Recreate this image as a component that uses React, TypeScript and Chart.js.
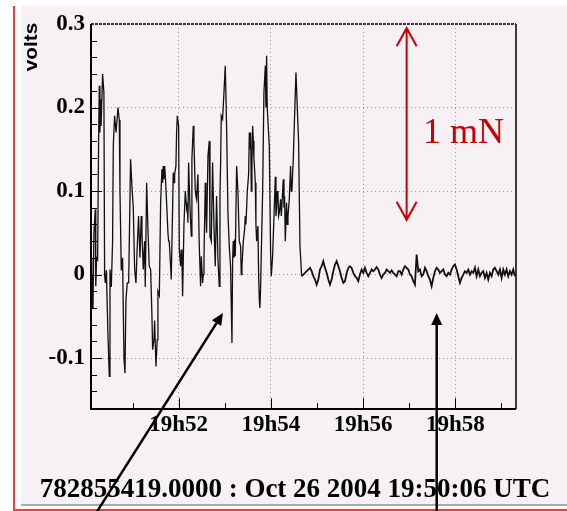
import React, { useEffect, useRef } from 'react';
import { Chart, registerables } from 'chart.js';

Chart.register(...registerables);

// Time axis: seconds after 19:50:00 UTC (26 Oct 2004)
const xMin = 6;
const xMax = 559;
const yMin = -0.161;
const yMax = 0.3;

// Oscillating part of the record (turning points)
const activeSeconds = [
  6.4, 7.0, 8.1, 8.6, 9.8, 11.6, 12.2, 13.3, 14.6, 15.9,
  16.8, 17.6, 18.5, 19.1, 21.1, 22.8, 23.7, 24.6, 26.0, 28.0,
  29.8, 30.7, 32.4, 34.1, 35.0, 36.7, 38.6, 41.1, 42.8, 43.7,
  45.4, 47.1, 48.9, 50.2, 51.5, 53.2, 55.0, 56.7, 57.5, 59.3,
  61.0, 62.8, 64.5, 66.2, 67.9, 69.7, 71.4, 72.3, 74.0, 75.8,
  76.6, 78.4, 80.1, 81.8, 83.6, 85.3, 86.2, 87.9, 88.8, 90.5,
  92.2, 93.1, 94.9, 96.6, 98.3,
  99.2, 100.0, 100.9, 101.8, 102.6, 104.4, 106.1, 107.0, 107.8, 109.6,
  110.4, 112.2, 113.0, 114.0, 114.8, 116.5, 117.4, 118.3, 120.0, 120.9,
  122.6, 123.5, 124.4, 125.2, 126.9, 128.7, 130.4, 131.3, 132.1, 133.0,
  134.7, 136.5, 137.3, 139.1, 139.9, 141.7, 142.5, 143.4, 145.1, 146.9,
  148.6, 149.5, 151.2, 152.1, 153.0, 154.7, 155.5, 156.4, 158.2, 159.9,
  160.8, 162.5, 164.2, 166.0, 167.7, 169.4, 171.2, 172.9, 173.8, 174.6,
  175.5, 177.2, 179.0, 180.7, 182.4, 184.2, 185.9, 187.6, 189.4, 190.3,
  191.1, 192.0, 192.9, 193.7, 195.5, 197.2, 198.9, 200.7, 201.5, 202.4,
  204.2, 205.9, 206.7, 207.6, 209.4, 211.1, 212.0, 212.8, 213.7, 214.6,
  215.4, 216.3, 217.2, 218.0, 219.8, 220.6, 221.5, 223.2, 224.1, 225.0,
  225.8, 226.7, 227.6, 229.3, 231.0, 232.8, 233.6, 234.5, 235.3, 236.2,
  238.0, 239.7, 240.6, 242.3, 244.1, 245.8, 246.7, 247.5, 248.4, 249.3,
  250.1, 251.0, 252.7, 253.6, 254.5, 256.2, 257.1, 257.9, 258.8, 260.5,
  261.4, 262.3, 264.0, 265.7, 266.6, 267.5, 269.2, 270.9, 272.7, 274.4,
  276.1, 277.9,
];
const activeVolts = [
  0.02, -0.04, 0.0, -0.04, 0.05, 0.078, -0.014, 0.02, 0.018, 0.16,
  0.226, 0.17, 0.21, 0.178, 0.24, 0.218, 0.0, -0.01, 0.005, -0.07,
  -0.122, 0.006, -0.015, 0.04, 0.154, 0.19, 0.17, 0.2, 0.185, 0.1,
  0.005, 0.02, -0.1, -0.118, -0.03, -0.01, -0.01, 0.09, 0.138, 0.105,
  0.08, 0.006, -0.01, 0.034, 0.07, 0.02, 0.07, 0.05, 0.006, 0.04,
  -0.015, 0.11, 0.054, 0.01, 0.006, -0.05, -0.09, -0.078, -0.055, -0.11,
  -0.078, -0.02, -0.025, 0.086, 0.126,
  0.11, 0.13, 0.114, 0.13, 0.12, 0.086, 0.05, 0.04, 0.04, 0.01,
  -0.006, 0.08, 0.122, 0.11, 0.12, 0.13, 0.17, 0.19, 0.178, 0.03,
  0.01, 0.03, 0.015, -0.026, 0.058, 0.1, 0.08, 0.086, 0.062, 0.134,
  0.082, 0.046, 0.138, 0.178, 0.16, 0.1, 0.094, 0.09, 0.12, 0.034,
  -0.014, 0.022, -0.01, 0.0, 0.018, 0.11, 0.08, 0.05, 0.142, 0.16,
  0.046, 0.04, 0.134, 0.058, 0.01, 0.094, 0.018, -0.014, 0.094, 0.13,
  0.19, 0.186, 0.218, 0.25, 0.178, 0.074, 0.034, 0.01, -0.082, 0.018,
  0.04, 0.02, 0.042, 0.022, 0.13, 0.1, 0.04, 0.034, 0.0, 0.01,
  0.04, 0.054, 0.07, 0.06, 0.1, 0.12, 0.17, 0.15, 0.17, 0.1,
  0.13, 0.178, 0.16, 0.14, 0.11, 0.06, 0.04, 0.058, 0.0, -0.03,
  -0.04, -0.014, 0.026, 0.098, 0.218, 0.25, 0.2, 0.262, 0.2, 0.2,
  0.154, 0.026, -0.002, 0.022, 0.07, 0.117, 0.07, 0.08, 0.1, 0.094,
  0.07, 0.074, 0.09, 0.07, 0.07, 0.114, 0.08, 0.094, 0.04, 0.086,
  0.06, 0.07, 0.09, 0.13, 0.1, 0.102, 0.138, 0.19, 0.242, 0.2,
  0.16, 0.034,
];

// Quiet part, sampled every quietStep seconds from quietStart
const quietStart = 280.1;
const quietStep = 2.168;
const quietVolts = [
  -0.002, 0.0, 0.002, 0.004, 0.006, 0.008, 0.004, -0.002, -0.006, -0.012,
  -0.006, 0.006, 0.01, 0.016, 0.008, 0.002, -0.006, -0.012, -0.006, 0.004,
  0.012, 0.016, 0.01, 0.004, -0.004, -0.01, -0.008, 0.002, 0.008, 0.01,
  0.008, 0.002, -0.002, -0.004, -0.008, 0.0, 0.006, 0.002, 0.008, 0.002,
  -0.002, 0.002, 0.006, 0.004, 0.006, 0.009, 0.006, 0.0, -0.004, 0.0,
  0.002, 0.006, 0.004, 0.002, 0.005, 0.002, 0.0, -0.002, 0.004, 0.004,
  0.0, 0.006, 0.01, 0.008, 0.006, 0.0, -0.002, -0.008, -0.012, 0.024,
  0.004, 0.006, -0.002, 0.0, 0.008, 0.004, -0.002, -0.006, -0.014, -0.004,
  0.004, 0.008, 0.006, 0.002, 0.004, 0.006, 0.0, -0.002, 0.002, 0.0,
  0.006, 0.01, 0.012, 0.006, -0.002, -0.01, -0.004, 0.0, 0.004, 0.002,
  0.006, 0.0, 0.004, 0.002, 0.008, -0.002, 0.006, -0.002, 0.002, 0.004,
  -0.004, 0.002, -0.006, 0.002, -0.002, 0.006, 0.008, 0.004, 0.0, 0.006,
  -0.004, 0.006, 0.0, 0.006, -0.002, 0.004, 0.0, 0.006, -0.002,
];

const xTickSeconds = [120, 240, 360, 480];
const xTickLabels = ['19h52', '19h54', '19h56', '19h58'];
const yTickValues = [-0.1, 0, 0.1, 0.2, 0.3];
const yTickLabels = ['-0.1', '0', '0.1', '0.2', '0.3'];

const yTitle = 'volts';
const footer = '782855419.0000 : Oct 26 2004 19:50:06 UTC';
const forceLabel = '1 mN';

// Annotation anchors in data units
const forceArrow = { x: 416.7, from: 0.295, to: 0.0655 };
const forceText = { x: 437.9, y: 0.158 };
const pointerArrows = [
  { x1: 13.7, y1: -0.284, x2: 177.7, y2: -0.046 },
  { x1: 455.8, y1: -0.284, x2: 455.8, y2: -0.046 },
];

const SERIF = "'Liberation Serif', 'Times New Roman', serif";
const SANS = "'Liberation Sans', Arial, sans-serif";
const BG = '#f5f1f5';
const RED = '#cc0000';

function buildPoints() {
  const pts: { x: number; y: number }[] = [];
  activeSeconds.forEach((s, i) => pts.push({ x: s, y: activeVolts[i] }));
  quietVolts.forEach((v, i) => pts.push({ x: quietStart + i * quietStep, y: v }));
  return pts;
}

const framePlugin = {
  id: 'rootFrame',
  beforeDraw(chart: any) {
    const { ctx, width, height } = chart;
    ctx.save();
    ctx.fillStyle = '#ffffff';
    ctx.fillRect(0, 0, width, height);
    ctx.fillStyle = BG;
    ctx.fillRect(21, 6, width - 21, 498);
    ctx.fillStyle = '#a9a9a9';
    ctx.fillRect(21, 504, width - 21, 2);
    ctx.fillStyle = '#f23c3c';
    ctx.fillRect(13, 6, 2, height - 6);
    ctx.fillRect(13, 509, width - 13, 2);
    ctx.restore();
  },
  afterDatasetsDraw(chart: any) {
    const { ctx, chartArea: a } = chart;
    const xs = chart.scales.x;
    const ys = chart.scales.y;
    ctx.save();
    ctx.strokeStyle = '#000';
    // frame
    ctx.lineWidth = 2;
    ctx.beginPath();
    ctx.moveTo(a.left, a.top);
    ctx.lineTo(a.left, a.bottom);
    ctx.lineTo(a.right, a.bottom);
    ctx.stroke();
    ctx.lineWidth = 1.5;
    ctx.beginPath();
    ctx.moveTo(a.right, a.bottom);
    ctx.lineTo(a.right, a.top);
    ctx.stroke();
    ctx.lineWidth = 1.5;
    ctx.setLineDash([3, 1]);
    ctx.beginPath();
    ctx.moveTo(a.left, a.top);
    ctx.lineTo(a.right, a.top);
    ctx.stroke();
    ctx.setLineDash([]);
    // tick marks, pointing into the frame
    ctx.lineWidth = 1;
    ctx.beginPath();
    for (let k = 1; k <= 9; k++) {
      const s = k * 60;
      const px = Math.round(xs.getPixelForValue(s)) + 0.5;
      const len = xTickSeconds.includes(s) ? 11 : 6;
      ctx.moveTo(px, a.bottom);
      ctx.lineTo(px, a.bottom - len);
    }
    for (let k = -8; k <= 14; k++) {
      const v = k / 50;
      const py = Math.round(ys.getPixelForValue(v)) + 0.5;
      if (py > a.bottom - 1 || py < a.top + 1) continue;
      const len = k % 5 === 0 ? 11 : 6;
      ctx.moveTo(a.left, py);
      ctx.lineTo(a.left + len, py);
    }
    ctx.stroke();
    ctx.restore();
  },
  afterDraw(chart: any) {
    const { ctx, width } = chart;
    const xs = chart.scales.x;
    const ys = chart.scales.y;
    ctx.save();

    // axis title
    ctx.save();
    ctx.translate(32, 47);
    ctx.rotate(-Math.PI / 2);
    ctx.scale(1.15, 1);
    ctx.fillStyle = '#000';
    ctx.font = `bold 18px ${SANS}`;
    ctx.textAlign = 'center';
    ctx.textBaseline = 'middle';
    ctx.fillText(yTitle, 0, 0);
    ctx.restore();

    // footer line with the start time
    ctx.fillStyle = '#000';
    ctx.font = `bold 27px ${SERIF}`;
    ctx.textAlign = 'center';
    ctx.textBaseline = 'alphabetic';
    ctx.fillText(footer, (21 + width) / 2 + 1, 497);

    // double-headed force scale arrow
    const fx = xs.getPixelForValue(forceArrow.x);
    const fTop = ys.getPixelForValue(forceArrow.from);
    const fBot = ys.getPixelForValue(forceArrow.to);
    ctx.strokeStyle = RED;
    ctx.lineWidth = 2;
    ctx.beginPath();
    ctx.moveTo(fx, fTop);
    ctx.lineTo(fx, fBot);
    ctx.moveTo(fx - 10, fTop + 18);
    ctx.lineTo(fx, fTop);
    ctx.lineTo(fx + 10, fTop + 18);
    ctx.moveTo(fx - 10, fBot - 18);
    ctx.lineTo(fx, fBot);
    ctx.lineTo(fx + 10, fBot - 18);
    ctx.stroke();
    ctx.fillStyle = RED;
    ctx.font = `36px ${SERIF}`;
    ctx.textAlign = 'left';
    ctx.fillText(forceLabel, xs.getPixelForValue(forceText.x), ys.getPixelForValue(forceText.y));

    // pointer arrows
    ctx.strokeStyle = '#000';
    ctx.fillStyle = '#000';
    ctx.lineWidth = 2.5;
    for (const p of pointerArrows) {
      const x1 = xs.getPixelForValue(p.x1);
      const y1 = ys.getPixelForValue(p.y1);
      const x2 = xs.getPixelForValue(p.x2);
      const y2 = ys.getPixelForValue(p.y2);
      const ang = Math.atan2(y2 - y1, x2 - x1);
      const hl = 12;
      const hw = 5.5;
      const bx = x2 - hl * Math.cos(ang);
      const by = y2 - hl * Math.sin(ang);
      ctx.beginPath();
      ctx.moveTo(x1, y1);
      ctx.lineTo(bx, by);
      ctx.stroke();
      ctx.beginPath();
      ctx.moveTo(x2, y2);
      ctx.lineTo(bx + hw * Math.sin(ang), by - hw * Math.cos(ang));
      ctx.lineTo(bx - hw * Math.sin(ang), by + hw * Math.cos(ang));
      ctx.closePath();
      ctx.fill();
    }
    ctx.restore();
  },
};

export default function App() {
  const ref = useRef<HTMLCanvasElement>(null);

  useEffect(() => {
    if (!ref.current) return;
    const chart = new Chart(ref.current, {
      type: 'line',
      data: {
        datasets: [
          {
            data: buildPoints(),
            borderColor: '#111',
            borderWidth: 1.3,
            pointRadius: 0,
            tension: 0,
            fill: false,
            segment: {
              borderWidth: (c: any) => (c.p0.parsed.x >= quietStart ? 1.8 : 1.3),
            },
          },
        ],
      },
      options: {
        animation: false,
        responsive: false,
        devicePixelRatio: 1,
        events: [],
        layout: { padding: { left: 0, top: 24, right: 51, bottom: 0 } },
        plugins: { legend: { display: false }, tooltip: { enabled: false } },
        scales: {
          x: {
            type: 'linear',
            min: xMin,
            max: xMax,
            afterFit: (s: any) => { s.height = 102; },
            afterBuildTicks: (s: any) => { s.ticks = xTickSeconds.map((v) => ({ value: v })); },
            ticks: {
              autoSkip: false,
              maxRotation: 0,
              padding: 2,
              color: '#000',
              font: { family: SERIF, size: 23, weight: 'bold' },
              callback: (v: any) => xTickLabels[xTickSeconds.indexOf(Number(v))] ?? '',
            },
            grid: { color: '#9a9a9a', lineWidth: 1, drawTicks: false },
            border: { display: false, dash: [1, 3] },
          },
          y: {
            type: 'linear',
            min: yMin,
            max: yMax,
            afterFit: (s: any) => { s.width = 91; },
            afterBuildTicks: (s: any) => { s.ticks = yTickValues.map((v) => ({ value: v })); },
            ticks: {
              autoSkip: false,
              padding: 6,
              color: '#000',
              font: { family: SERIF, size: 23, weight: 'bold' },
              callback: (v: any) => {
                const i = yTickValues.findIndex((t) => Math.abs(t - Number(v)) < 1e-9);
                return i >= 0 ? yTickLabels[i] : '';
              },
            },
            grid: { color: '#9a9a9a', lineWidth: 1, drawTicks: false },
            border: { display: false, dash: [1, 3] },
          },
        },
      },
      plugins: [framePlugin],
    });
    return () => chart.destroy();
  }, []);

  return (
    <div style={{ position: 'absolute', left: 0, top: 0 }}>
      <canvas ref={ref} width={567} height={511} style={{ display: 'block', width: 567, height: 511 }} />
    </div>
  );
}
